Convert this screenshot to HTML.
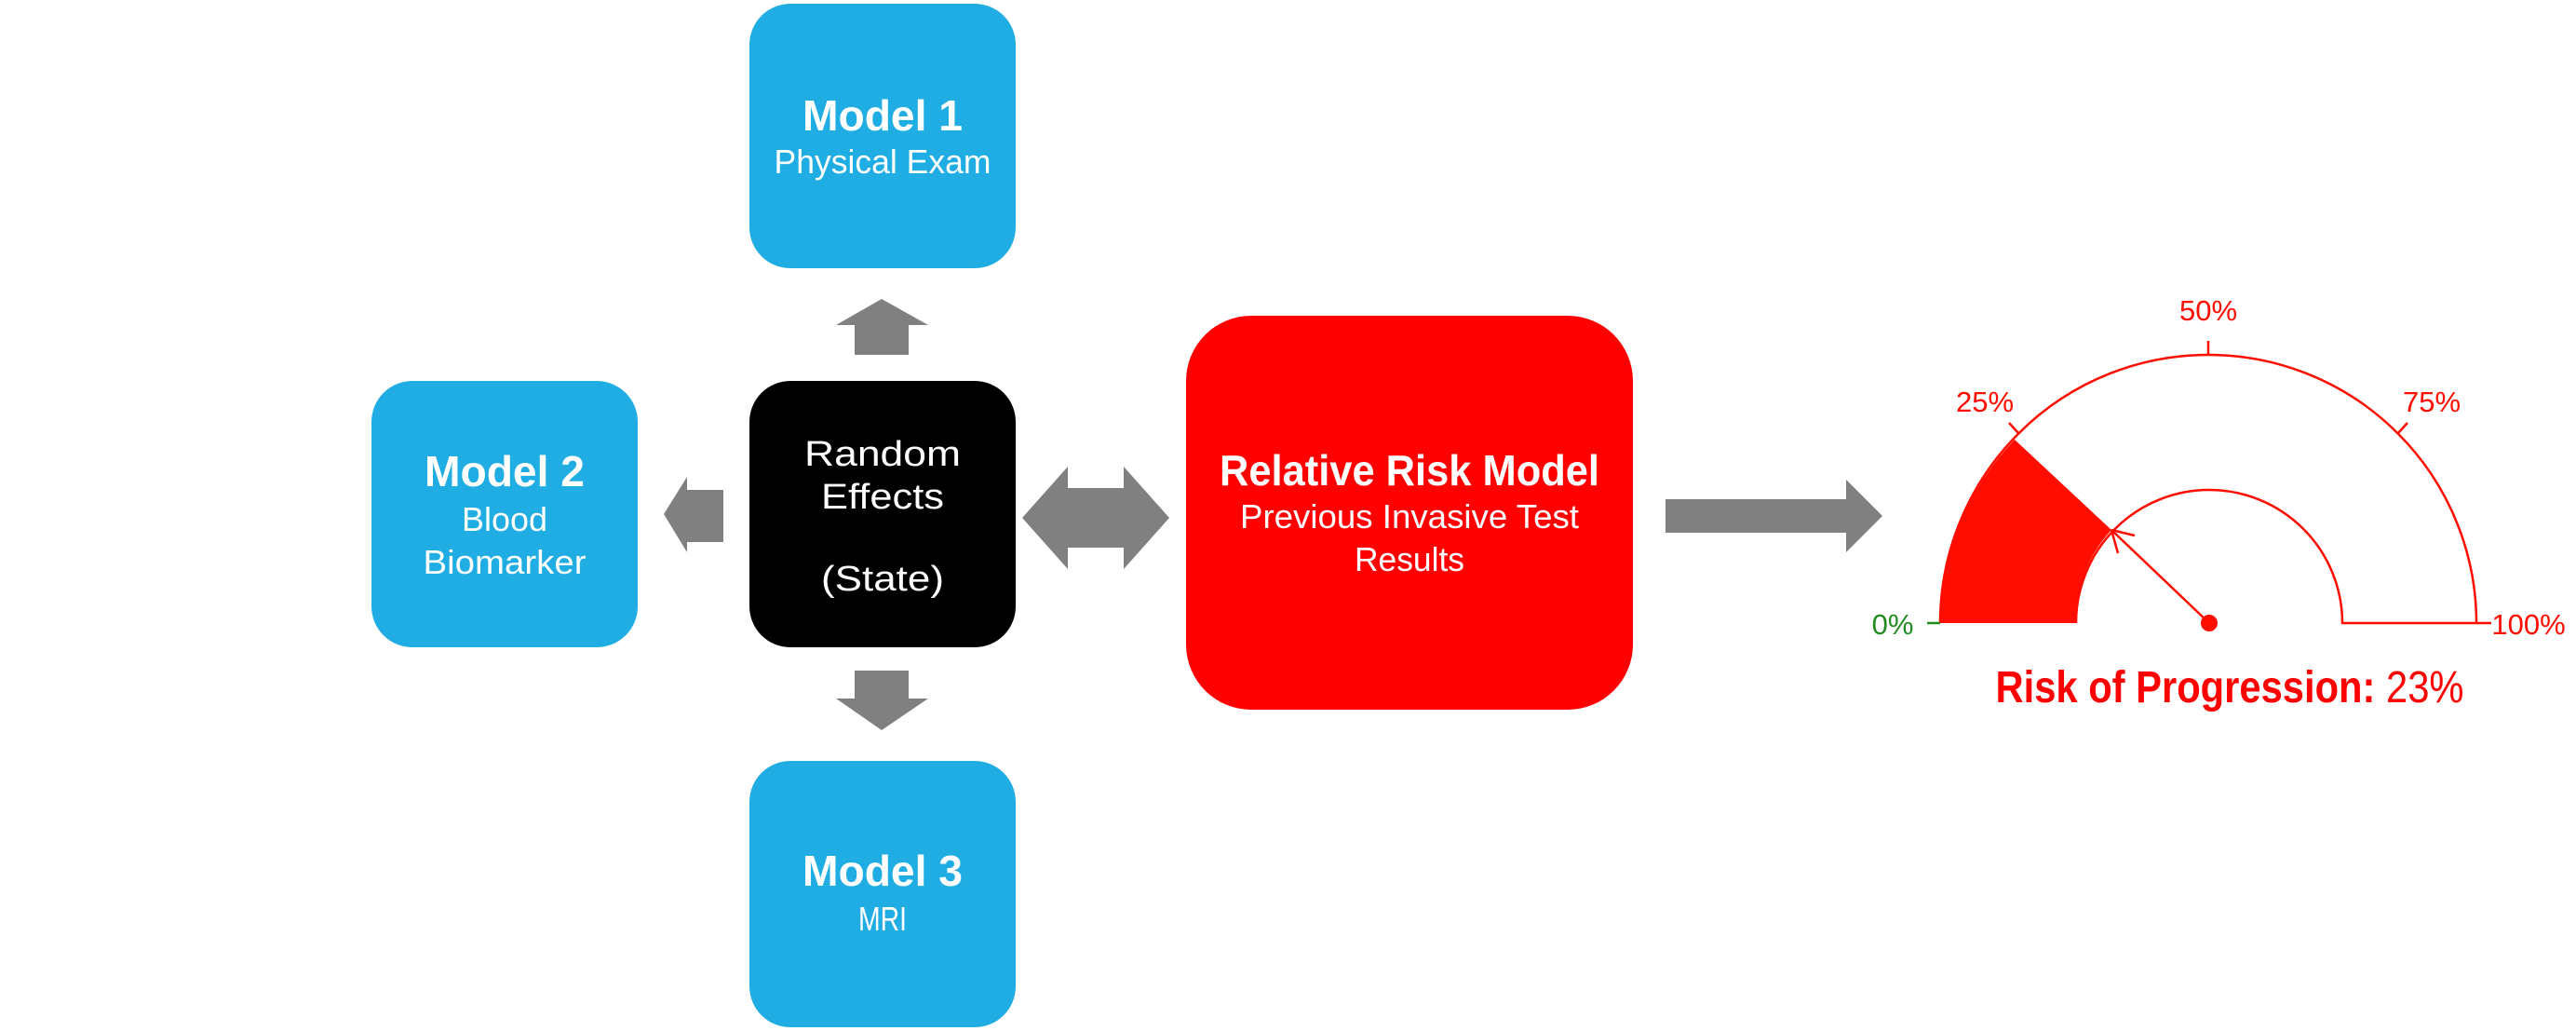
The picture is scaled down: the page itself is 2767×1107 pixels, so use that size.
<!DOCTYPE html>
<html><head><meta charset="utf-8"><style>html,body{margin:0;padding:0;background:#fff}svg{display:block}</style></head>
<body>
<svg width="2767" height="1107" viewBox="0 0 2767 1107" xmlns="http://www.w3.org/2000/svg" font-family="Liberation Sans, sans-serif">
<rect width="2767" height="1107" fill="#fff"/>
<rect x="805" y="4" width="286" height="284" rx="44" fill="#1FADE4"/>
<rect x="399" y="409" width="286" height="286" rx="44" fill="#1FADE4"/>
<rect x="805" y="409" width="286" height="286" rx="44" fill="#000"/>
<rect x="805" y="817" width="286" height="286" rx="44" fill="#1FADE4"/>
<rect x="1274" y="339" width="480" height="423" rx="70" fill="#FF0000"/>
<g fill="#808080">
<polygon points="947,321 997,349 976,349 976,381 918,381 918,349 898,349"/>
<polygon points="918,720 976,720 976,750 997,750 947,784 898,750 918,750"/>
<polygon points="713,552 738,512 738,526 777,526 777,582 738,582 738,593"/>
<polygon points="1098,556 1147,501 1147,524 1207,524 1207,501 1256,556 1207,611 1207,588 1147,588 1147,611"/>
<polygon points="1789,536 1983,536 1983,515 2022,554 1983,593 1983,572 1789,572"/>
</g>
<g fill="#fff" text-anchor="middle">
<text x="948" y="140" font-size="46" font-weight="bold" textLength="172" lengthAdjust="spacingAndGlyphs">Model 1</text>
<text x="948" y="186" font-size="36" textLength="233" lengthAdjust="spacingAndGlyphs">Physical Exam</text>
<text x="542" y="522" font-size="46" font-weight="bold" textLength="172" lengthAdjust="spacingAndGlyphs">Model 2</text>
<text x="542" y="570" font-size="36" textLength="92" lengthAdjust="spacingAndGlyphs">Blood</text>
<text x="542" y="616" font-size="36" textLength="175" lengthAdjust="spacingAndGlyphs">Biomarker</text>
<text x="948" y="500" font-size="38" textLength="168" lengthAdjust="spacingAndGlyphs">Random</text>
<text x="948" y="546" font-size="38" textLength="132" lengthAdjust="spacingAndGlyphs">Effects</text>
<text x="948" y="634" font-size="38" textLength="132" lengthAdjust="spacingAndGlyphs">(State)</text>
<text x="948" y="951" font-size="46" font-weight="bold" textLength="172" lengthAdjust="spacingAndGlyphs">Model 3</text>
<text x="948" y="999" font-size="36" textLength="52" lengthAdjust="spacingAndGlyphs">MRI</text>
<text x="1514" y="521" font-size="46" font-weight="bold" textLength="408" lengthAdjust="spacingAndGlyphs">Relative Risk Model</text>
<text x="1514" y="567" font-size="36" textLength="364" lengthAdjust="spacingAndGlyphs">Previous Invasive Test</text>
<text x="1514" y="613" font-size="36" textLength="118" lengthAdjust="spacingAndGlyphs">Results</text>
</g>
<path d="M2084,669 A288,288 0 0 1 2164,472 L2268,569 A143,143 0 0 0 2230,669 Z" fill="#FF0D00"/>
<path d="M2084,669 A288,288 0 0 1 2660,669 L2516,669 A143,143 0 0 0 2230,669" fill="none" stroke="#FF0D00" stroke-width="2.5"/>
<g stroke="#FF0D00" stroke-width="2.5">
<line x1="2168" y1="465" x2="2158" y2="454"/>
<line x1="2372" y1="381" x2="2372" y2="366"/>
<line x1="2576" y1="465" x2="2586" y2="454"/>
<line x1="2660" y1="669" x2="2676" y2="669"/>
<line x1="2373" y1="669" x2="2268" y2="569"/>
<line x1="2268" y1="569" x2="2293" y2="575"/>
<line x1="2268" y1="569" x2="2275" y2="594"/>
</g>
<line x1="2070" y1="669" x2="2084" y2="669" stroke="#228B22" stroke-width="2.5"/>
<circle cx="2373" cy="669" r="9" fill="#FF0D00"/>
<g font-size="31" fill="#FF0D00" text-anchor="middle">
<text x="2372" y="344">50%</text>
<text x="2132" y="442">25%</text>
<text x="2612" y="442">75%</text>
<text x="2716" y="681">100%</text>
</g>
<text x="2033" y="681" font-size="31" fill="#228B22" text-anchor="middle">0%</text>
<text x="2395" y="754" font-size="48" fill="#FF0000" text-anchor="middle" textLength="503" lengthAdjust="spacingAndGlyphs"><tspan font-weight="bold">Risk of Progression:</tspan> 23%</text>
</svg>
</body></html>
